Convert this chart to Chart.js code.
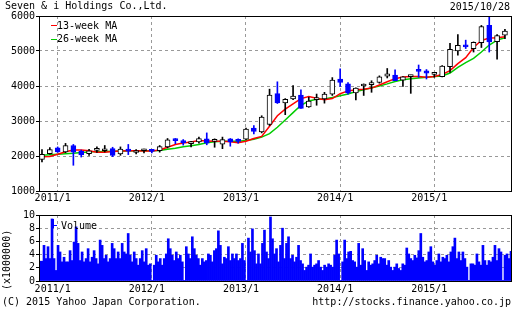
<!DOCTYPE html>
<html>
<head>
<meta charset="utf-8">
<title>Seven &amp; i Holdings Co.,Ltd.</title>
<script src="https://cdn.jsdelivr.net/npm/chart.js@4.4.1/dist/chart.umd.min.js"></script>
<style>
  body { margin: 0; background: #fff; }
  #wrap { position: relative; width: 512px; height: 310px; overflow: hidden; font: 10px "DejaVu Sans Mono", monospace; color: #000; }
  canvas { position: absolute; left: 0; }
  #priceChart { top: 0; }
  #volumeChart { top: 205px; }
  .txt { position: absolute; white-space: pre; line-height: 12px; z-index: 2; }
  .mark { position: absolute; z-index: 2; }
</style>
</head>
<body>
<div id="wrap">
  <canvas id="priceChart" width="512" height="210"></canvas>
  <canvas id="volumeChart" width="512" height="95"></canvas>
  <div class="txt" style="left:5px;top:0">Seven &amp; i Holdings Co.,Ltd.</div>
  <div class="txt" style="right:2px;top:1px">2015/10/28</div>
  <span class="mark" style="left:51px;top:25px;width:6px;height:1px;background:#ff0000"></span>
  <div class="txt" style="left:57px;top:20px">13-week MA</div>
  <span class="mark" style="left:51px;top:39px;width:6px;height:1px;background:#00cc00"></span>
  <div class="txt" style="left:57px;top:33px">26-week MA</div>
  <span class="mark" style="left:53px;top:219px;width:1px;height:9px;background:#0000ff"></span>
  <span class="mark" style="left:53px;top:225px;width:4px;height:1px;background:#0000ff"></span>
  <div class="txt" style="left:61px;top:220px">Volume</div>
  <div class="txt" style="left:-23px;top:254px;width:60px;text-align:center;transform:rotate(-90deg)">(x1000000)</div>
  <div class="txt" style="left:2px;top:296px">(C) 2015 Yahoo Japan Corporation.</div>
  <div class="txt" style="right:1px;top:296px">http://stocks.finance.yahoo.co.jp</div>
</div>
<script>
// monthly candles, 2010/11 .. 2015/10
const months = [
  '2010/11', '2010/12',
  '2011/1', '2011/2', '2011/3', '2011/4', '2011/5', '2011/6', '2011/7', '2011/8', '2011/9', '2011/10', '2011/11', '2011/12',
  '2012/1', '2012/2', '2012/3', '2012/4', '2012/5', '2012/6', '2012/7', '2012/8', '2012/9', '2012/10', '2012/11', '2012/12',
  '2013/1', '2013/2', '2013/3', '2013/4', '2013/5', '2013/6', '2013/7', '2013/8', '2013/9', '2013/10', '2013/11', '2013/12',
  '2014/1', '2014/2', '2014/3', '2014/4', '2014/5', '2014/6', '2014/7', '2014/8', '2014/9', '2014/10', '2014/11', '2014/12',
  '2015/1', '2015/2', '2015/3', '2015/4', '2015/5', '2015/6', '2015/7', '2015/8', '2015/9', '2015/10'
];

const open = [
  1900, 2070,
  2230, 2120, 2300, 2130, 2070, 2160, 2150, 2210, 2060, 2160, 2100, 2150,
  2180, 2150, 2260, 2470, 2430, 2350, 2400, 2490, 2420, 2340, 2490, 2460,
  2480, 2800, 2690, 2900, 3780, 3520, 3630, 3740, 3400, 3610, 3630, 3770,
  4200, 4060, 3800, 4000, 4040, 4100, 4280, 4310, 4170, 4270, 4470, 4430,
  4330, 4270, 4550, 5000, 5170, 5070, 5240, 5730, 5270, 5450
];
const high = [
  2180, 2240,
  2260, 2360, 2330, 2170, 2190, 2260, 2300, 2250, 2260, 2330, 2180, 2200,
  2190, 2300, 2500, 2500, 2470, 2420, 2540, 2660, 2490, 2540, 2500, 2490,
  2800, 2870, 3150, 3910, 4120, 3640, 4010, 3890, 3680, 3770, 3820, 4240,
  4490, 4100, 3950, 4060, 4150, 4290, 4500, 4460, 4270, 4310, 4600, 4470,
  4380, 4580, 5220, 5470, 5310, 5260, 5730, 6000, 5470, 5620
];
const low = [
  1830, 2050,
  2100, 2095, 1735, 1970, 2020, 2100, 2115, 1980, 2020, 2040, 2060, 2090,
  2090, 2110, 2230, 2350, 2310, 2260, 2370, 2320, 2250, 2210, 2280, 2370,
  2470, 2630, 2660, 2870, 3500, 3180, 3610, 3360, 3390, 3450, 3510, 3730,
  3990, 3770, 3600, 3730, 3820, 4080, 4230, 4150, 3990, 3790, 4250, 4200,
  4250, 4260, 4390, 4880, 5070, 4970, 5100, 4970, 4770, 5350
];
const close = [
  2050, 2180,
  2120, 2300, 2110, 2030, 2150, 2160, 2200, 2020, 2200, 2140, 2100, 2150,
  2130, 2270, 2460, 2440, 2380, 2410, 2500, 2370, 2420, 2470, 2400, 2420,
  2770, 2700, 3110, 3740, 3520, 3620, 3710, 3360, 3570, 3610, 3770, 4170,
  4100, 3800, 3940, 4020, 4040, 4260, 4350, 4150, 4260, 4270, 4420, 4370,
  4330, 4570, 5050, 5160, 5120, 5250, 5700, 5260, 5440, 5570
];

// moving averages read at each candle month
const ma13 = [
  1980, 1985,
  2050, 2120, 2170, 2170, 2150, 2110, 2110, 2130, 2140, 2150, 2150, 2140,
  2140, 2170, 2250, 2330, 2370, 2400, 2440, 2430, 2420, 2420, 2410, 2380,
  2420, 2500, 2560, 2850, 3150, 3340, 3490, 3640, 3700, 3650, 3610, 3640,
  3780, 3860, 3890, 3910, 3940, 4030, 4120, 4210, 4260, 4270, 4270, 4250,
  4270, 4330, 4440, 4640, 4810, 5100, 5300, 5370, 5380, 5410
];
const ma26 = [
  2020, 2035,
  2050, 2065, 2080, 2100, 2115, 2125, 2130, 2135, 2140, 2145, 2150, 2150,
  2150, 2155, 2190, 2220, 2265, 2295, 2330, 2380, 2410, 2420, 2420, 2420,
  2440, 2480, 2540, 2640, 2820, 3030, 3240, 3450, 3570, 3620, 3630, 3670,
  3720, 3770, 3840, 3890, 3950, 4000, 4060, 4130, 4180, 4210, 4230, 4250,
  4270, 4285, 4370, 4530, 4670, 4790, 4970, 5170, 5310, 5380
];

// volume (x1000000), evenly sampled over the whole window
const volume = [
  3.0, 3.0, 5.4, 3.4, 5.2, 3.4, 9.4, 3.4, 1.6, 5.4, 4.4, 2.9, 3.6, 2.9, 2.9, 4.6, 3.1, 5.9, 8.2, 5.7,
  3.1, 4.4, 2.9, 3.4, 4.9, 2.9, 3.6, 4.6, 3.4, 2.6, 6.2, 5.4, 3.4, 3.9, 2.9, 3.4, 5.7, 4.9, 3.4, 4.4,
  3.4, 5.7, 4.4, 4.1, 7.2, 3.9, 2.9, 4.4, 3.4, 2.4, 3.4, 4.6, 2.9, 4.9, 2.4, 2.6, 0.1, 2.4, 3.9, 2.9,
  3.4, 2.4, 3.4, 4.1, 6.4, 4.9, 3.9, 3.1, 4.4, 3.4, 3.9, 2.9, 0.1, 5.2, 4.1, 3.4, 6.7, 4.9, 3.9, 3.4,
  2.4, 3.4, 2.9, 3.1, 4.1, 3.9, 2.9, 4.6, 4.9, 7.6, 5.4, 2.6, 3.6, 3.4, 5.2, 3.1, 4.1, 3.4, 4.1, 3.1,
  3.4, 5.7, 3.1, 0.1, 6.5, 4.4, 7.9, 4.6, 2.6, 4.1, 2.6, 5.7, 7.7, 4.4, 3.4, 9.7, 6.4, 4.1, 4.9, 2.9,
  5.4, 8.0, 3.4, 5.7, 6.7, 3.4, 3.9, 2.9, 3.6, 5.4, 3.1, 2.6, 1.6, 2.1, 2.4, 4.1, 2.1, 2.4, 2.6, 3.1,
  2.1, 1.6, 2.4, 2.1, 2.6, 2.4, 2.1, 3.9, 6.2, 4.1, 0.1, 2.9, 6.2, 3.4, 4.4, 4.5, 3.1, 2.9,
  2.1, 5.7, 2.4, 4.9, 3.1, 1.6, 2.9, 2.4, 2.6, 3.1, 3.9, 2.6, 3.6, 3.4, 3.4, 2.4, 3.1, 2.1, 1.6, 2.1,
  2.6, 1.9, 1.6, 2.6, 2.4, 5.0, 4.1, 3.4, 3.1, 3.9, 3.5, 4.6, 7.2, 3.6, 2.9, 3.1, 4.4, 5.2, 2.9, 2.4,
  3.1, 4.1, 2.9, 3.6, 3.4, 3.9, 2.9, 4.4, 5.2, 6.5, 3.4, 4.4, 3.1, 4.4, 3.4, 2.1, 0.1, 2.6, 2.6, 2.4,
  4.1, 2.9, 2.4, 5.4, 3.1, 2.4, 3.1, 2.9, 3.6, 5.4, 3.1, 4.9, 4.4, 0.1, 3.9, 4.1, 3.4, 4.5
];

const tickLabels = ['2011/1', '2012/1', '2013/1', '2014/1', '2015/1'];

// x window in months from 2011/1 (2010/10/28 .. 2015/10/28)
const X_MIN = -2.38;
const X_MAX = 57.9;

const BLUE = '#0000ff';
const GREEN = '#00cc00';
const GRID = '#999999';
const FONT = { family: '"DejaVu Sans Mono", monospace', size: 10 };

function toMonth(label) {
  const parts = label.split('/').map(Number);
  return (parts[0] - 2011) * 12 + (parts[1] - 1);
}

const edgeColors = months.map((m, i) => close[i] < open[i] ? BLUE : '#000000');
const fillColors = months.map((m, i) => close[i] < open[i] ? BLUE : '#ffffff');

// box around the plot area
const frame = {
  id: 'frame',
  afterDraw(chart) {
    const a = chart.chartArea;
    const ctx = chart.ctx;
    ctx.save();
    ctx.strokeStyle = '#000';
    ctx.lineWidth = 1;
    ctx.strokeRect(a.left + 0.5, a.top + 0.5, a.right - a.left - 1, a.bottom - a.top);
    ctx.restore();
  }
};

function xAxis(height, pad) {
  return {
    type: 'linear',
    min: X_MIN,
    max: X_MAX,
    offset: false,
    afterBuildTicks: s => { s.ticks = tickLabels.map(t => ({ value: toMonth(t) })); },
    afterFit: s => { s.height = height; },
    ticks: { autoSkip: false, maxRotation: 0, padding: pad, labelOffset: -5, color: '#000', font: FONT,
             callback: (v, i) => tickLabels[i] },
    grid: { color: GRID, drawTicks: false, offset: false },
    border: { display: false, dash: [3, 3] }
  };
}

function yAxis(min, max, step) {
  return {
    min: min,
    max: max,
    afterFit: s => { s.width = 39; },
    ticks: { stepSize: step, autoSkip: false, padding: 1, color: '#000', font: FONT, callback: v => String(v) },
    grid: { color: GRID, tickColor: '#000', tickLength: 3 },
    border: { display: false, dash: [3, 3] }
  };
}

new Chart(document.getElementById('priceChart'), {
  type: 'bar',
  data: {
    datasets: [
      {
        type: 'line',
        label: '13-week MA',
        data: months.map((m, i) => ({ x: toMonth(m), y: ma13[i] })),
        borderColor: '#ff0000',
        borderWidth: 1.5,
        pointRadius: 0,
        order: 3
      },
      {
        type: 'line',
        label: '26-week MA',
        data: months.map((m, i) => ({ x: toMonth(m), y: ma26[i] })),
        borderColor: GREEN,
        borderWidth: 1.5,
        pointRadius: 0,
        order: 3
      },
      {
        label: 'high-low',
        data: months.map((m, i) => ({ x: toMonth(m), y: [low[i], high[i]] })),
        backgroundColor: edgeColors,
        barThickness: 1,
        grouped: false,
        order: 2
      },
      {
        label: 'open-close',
        data: months.map((m, i) => ({ x: toMonth(m), y: [open[i], close[i]] })),
        backgroundColor: fillColors,
        borderColor: edgeColors,
        borderWidth: 1,
        borderSkipped: false,
        barThickness: 5,
        minBarLength: 2,
        grouped: false,
        order: 1
      }
    ]
  },
  options: {
    responsive: false,
    animation: false,
    devicePixelRatio: 1,
    layout: { padding: { top: 16, right: 0, bottom: 0, left: 0 } },
    plugins: { legend: { display: false }, tooltip: { enabled: false } },
    scales: {
      x: xAxis(19, 1),
      y: yAxis(1000, 6000, 1000)
    }
  },
  plugins: [frame]
});

new Chart(document.getElementById('volumeChart'), {
  type: 'bar',
  data: {
    datasets: [{
      label: 'Volume',
      data: volume.map((v, i) => ({ x: X_MIN + (i + 0.5) * (X_MAX - X_MIN) / volume.length, y: v })),
      backgroundColor: BLUE,
      barThickness: 2,
      grouped: false
    }]
  },
  options: {
    responsive: false,
    animation: false,
    devicePixelRatio: 1,
    layout: { padding: { top: 10, right: 0, bottom: 0, left: 0 } },
    plugins: { legend: { display: false }, tooltip: { enabled: false } },
    scales: {
      x: xAxis(19, 2),
      y: yAxis(0, 10, 2)
    }
  },
  plugins: [frame]
});
</script>
</body>
</html>
